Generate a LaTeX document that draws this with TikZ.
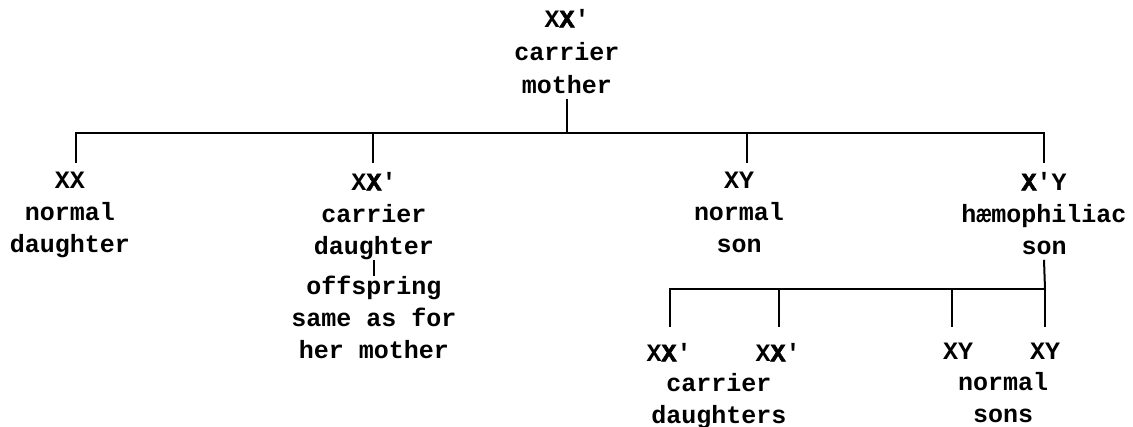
\documentclass[tikz,border=0pt]{standalone}
\usepackage{fontspec}
\setmonofont{Liberation Mono}
\newfontfamily\heavymono{Liberation Mono}[BoldFeatures={FakeBold=2.5}]
\newcommand{\hX}{{\heavymono\bfseries X}}
\begin{document}
\begin{tikzpicture}[x=1pt,y=-1pt,
  lbl/.style={font=\ttfamily\bfseries\fontsize{25}{32}\selectfont, align=center, inner sep=0pt, anchor=north},
  lblwide/.style={lbl, font=\ttfamily\bfseries\fontsize{25}{33}\selectfont},
  ln/.style={line width=2pt, line cap=butt, line join=miter}]
\fill[white] (0,0) rectangle (1133,427);
\useasboundingbox (0,0) rectangle (1133,427);

% generation 1
\node[lblwide] (mother) at (567,9) {X\hX'\\carrier\\mother};

% generation 2
\node[lbl] (nd) at (70,172) {XX\\normal\\daughter};
\node[lbl] (cd) at (374,172) {X\hX'\\carrier\\daughter};
\node[lbl] (ns) at (739,172) {XY\\normal\\son};
\node[lbl] (hs) at (1044,172) {\hX'Y\\hæmophiliac\\son};
\node[lbl] (off) at (374,276) {offspring\\same as for\\her mother};

% generation 3
\node[lbl] (g1) at (669,343) {X\hX'};
\node[lbl] (g2) at (778,343) {X\hX'};
\node[lbl] (g3) at (958,343) {XY};
\node[lbl] (g4) at (1045,343) {XY};
\node[lbl] (cdl) at (719,373) {carrier\\daughters};
\node[lbl] (nsl) at (1003,372) {normal\\sons};

% top bar
\coordinate (m1) at (567,133);
\coordinate (bl) at (76,133);
\coordinate (br) at (1044,133);
\coordinate (t1) at (76,163);
\coordinate (t2u) at (373,133);
\coordinate (t2) at (373,163);
\coordinate (t3u) at (747,133);
\coordinate (t3) at (747,163);
\coordinate (t4) at (1044,163);
\draw[ln] ([yshift=-5pt]mother.south) -- (m1);
\draw[ln] (t1) -- (bl) -- (br) -- (t4);
\draw[ln] (t2u) -- (t2);
\draw[ln] (t3u) -- (t3);

% carrier daughter offspring
\draw[ln] (cd.south) -- (off.north);

% second bar
\coordinate (c2) at (1045,289);
\coordinate (el) at (670,289);
\coordinate (s1) at (670,327);
\coordinate (s2u) at (779,289);
\coordinate (s2) at (779,327);
\coordinate (s3u) at (952,289);
\coordinate (s3) at (952,327);
\coordinate (s4) at (1045,327);
\draw[ln] ([yshift=-5pt]hs.south) -- (c2);
\draw[ln] (s1) -- (el) -- (c2) -- (s4);
\draw[ln] (s2u) -- (s2);
\draw[ln] (s3u) -- (s3);
\end{tikzpicture}
\end{document}
